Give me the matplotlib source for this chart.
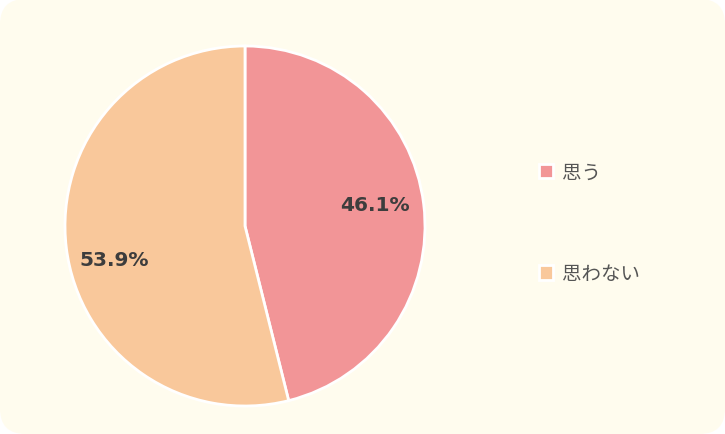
import matplotlib.pyplot as plt
from matplotlib.patches import FancyBboxPatch, Patch
from matplotlib.transforms import ScaledTranslation

labels = ["思う", "思わない"]
shares = [46.1, 53.9]
colors = ["#F29597", "#F9C89B"]

BG = "#FFFCEE"

fig = plt.figure(figsize=(7.25, 4.35), dpi=100)
fig.patch.set_facecolor("white")
fig.patches.append(FancyBboxPatch((0, 0), 1, 1, boxstyle="round,pad=0,rounding_size=0.035",
                                  transform=fig.transFigure, facecolor=BG, edgecolor="none",
                                  mutation_aspect=725 / 435, zorder=-10))

ax = fig.add_axes([65 / 725, 28 / 435, 360 / 725, 360 / 435])
wedges, texts, autotexts = ax.pie(
    shares, colors=colors, startangle=90, counterclock=False,
    autopct="%.1f%%", pctdistance=0.74,
    wedgeprops=dict(edgecolor="white", linewidth=2),
    textprops=dict(fontsize=14.5, fontweight="bold", color="#3d3d3d", family="DejaVu Sans"),
)
ax.set_aspect("equal")
ax.set_xlim(-1, 1)
ax.set_ylim(-1, 1)

# nudge the percentage labels (pixels) to where the original sits them
nudges = [(-2, 5), (1, -17)]
for t, (dx, dy) in zip(autotexts, nudges):
    t.set_transform(t.get_transform() + ScaledTranslation(dx / 100, dy / 100, fig.dpi_scale_trans))

handles = [Patch(facecolor=c, edgecolor="white", linewidth=2) for c in colors]
leg = fig.legend(handles, labels, loc="center left", bbox_to_anchor=(521 / 725, 1 - 224 / 435),
                 frameon=False, handlelength=0.75, handleheight=0.75, handletextpad=0.45,
                 labelspacing=4.15,
                 prop=dict(family=["Noto Sans CJK JP", "DejaVu Sans"], size=14))
for t in leg.get_texts():
    t.set_color("#555555")

fig.savefig("out.png", dpi=100, facecolor="white")
